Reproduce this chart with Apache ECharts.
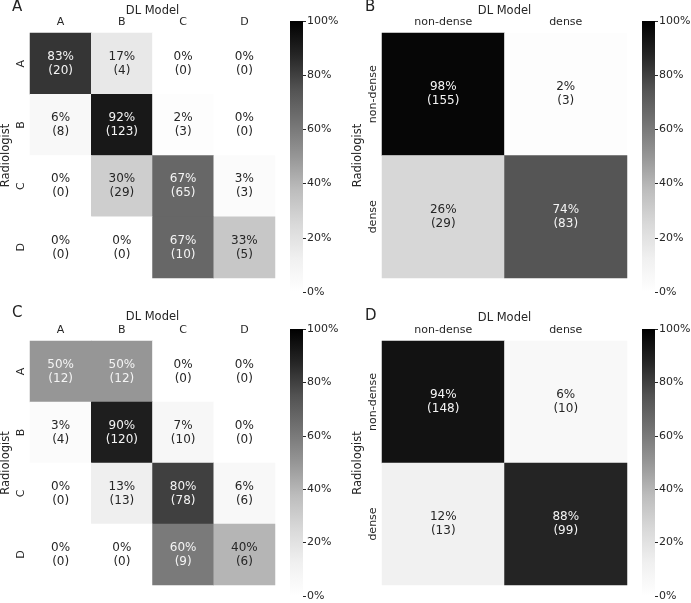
<!DOCTYPE html>
<html><head><meta charset="utf-8">
<script src="https://cdn.jsdelivr.net/npm/echarts@6/dist/echarts.min.js"></script>
<style>html,body{margin:0;padding:0;background:#fff}#c{width:691px;height:603px}</style>
</head><body><div id="c"></div>
<script>
const catsFour = ['A', 'B', 'C', 'D'];
const catsTwo = ['non-dense', 'dense'];
const pctA = [[83, 17, 0, 0], [6, 92, 2, 0], [0, 30, 67, 3], [0, 0, 67, 33]];
const cntA = [[20, 4, 0, 0], [8, 123, 3, 0], [0, 29, 65, 3], [0, 0, 10, 5]];
const pctB = [[98, 2], [26, 74]];
const cntB = [[155, 3], [29, 83]];
const pctC = [[50, 50, 0, 0], [3, 90, 7, 0], [0, 13, 80, 6], [0, 0, 60, 40]];
const cntC = [[12, 12, 0, 0], [4, 120, 10, 0], [0, 13, 78, 6], [0, 0, 9, 6]];
const pctD = [[94, 6], [12, 88]];
const cntD = [[148, 10], [13, 99]];
const cbarTicks = [0, 20, 40, 60, 80, 100];
const panelLetters = ['A', 'B', 'C', 'D'];
const xTitle = 'DL Model';
const yTitle = 'Radiologist';

const FONT = 'DejaVu Sans';
const TXT = '#262626';
const greys = ['#ffffff', '#f0f0f0', '#d9d9d9', '#bdbdbd', '#969696', '#737373', '#525252', '#252525', '#000000'];

const panels = [
  { cats: catsFour, pct: pctA, cnt: cntA, grid: { left: 30, top: 33, width: 245, height: 245 }, cb: { left: 290, top: 21, height: 271 }, letter: { x: 12, y: 0 }, nameGap: 21.5 },
  { cats: catsTwo, pct: pctB, cnt: cntB, grid: { left: 382, top: 33, width: 245, height: 245 }, cb: { left: 642, top: 21, height: 271 }, letter: { x: 365, y: 0 }, nameGap: 21.5 },
  { cats: catsFour, pct: pctC, cnt: cntC, grid: { left: 30, top: 341, width: 245, height: 244 }, cb: { left: 290, top: 329, height: 267 }, letter: { x: 12, y: 306 }, nameGap: 23.5 },
  { cats: catsTwo, pct: pctD, cnt: cntD, grid: { left: 382, top: 341, width: 245, height: 244 }, cb: { left: 642, top: 329, height: 267 }, letter: { x: 365, y: 309 }, nameGap: 23 }
];

const gradStops = greys.slice().reverse().map((c, k, a) => ({ offset: k / (a.length - 1), color: c }));

const grid = [], xAxis = [], yAxis = [], series = [], visualMap = [], graphic = [];
panels.forEach((p, i) => {
  grid.push(Object.assign({ outerBoundsMode: 'none', containLabel: false }, p.grid));
  const gi = grid.length - 1;
  xAxis.push({
    type: 'category', gridIndex: gi, data: p.cats, position: 'top',
    name: xTitle, nameLocation: 'middle', nameGap: p.nameGap, nameMoveOverlap: false,
    nameTextStyle: { fontFamily: FONT, fontSize: 11.5, color: TXT, verticalAlign: 'middle' },
    axisLine: { show: false }, axisTick: { show: false }, splitLine: { show: false },
    axisLabel: { fontFamily: FONT, fontSize: 11, color: TXT, margin: 5 }
  });
  yAxis.push({
    type: 'category', gridIndex: gi, data: p.cats, inverse: true,
    name: yTitle, nameLocation: 'middle', nameGap: 24, nameRotate: 90, nameMoveOverlap: false,
    nameTextStyle: { fontFamily: FONT, fontSize: 11.5, color: TXT, verticalAlign: 'middle' },
    axisLine: { show: false }, axisTick: { show: false }, splitLine: { show: false },
    axisLabel: { fontFamily: FONT, fontSize: 11, color: TXT, rotate: 90, margin: 3, align: 'center', verticalAlign: 'bottom' }
  });
  const data = [];
  p.pct.forEach((row, r) => row.forEach((v, c) => {
    data.push({ value: [c, r, v], label: { color: v > 44 ? '#f4f4f4' : TXT } });
  }));
  const cnt = p.cnt;
  series.push({
    type: 'heatmap', xAxisIndex: gi, yAxisIndex: gi, data: data,
    label: {
      show: true, fontFamily: FONT, fontSize: 12, lineHeight: 14,
      formatter: (prm) => prm.value[2] + '%\n(' + cnt[prm.value[1]][prm.value[0]] + ')'
    },
    itemStyle: { borderWidth: 0 },
    emphasis: { disabled: true }
  });
  visualMap.push({
    type: 'continuous', seriesIndex: i, dimension: 2, min: 0, max: 100,
    show: false, inRange: { color: greys }
  });
  grid.push({ left: p.cb.left, top: p.cb.top, width: 13, height: p.cb.height, outerBoundsMode: 'none', containLabel: false });
  const ci = grid.length - 1;
  xAxis.push({ type: 'value', gridIndex: ci, show: false, min: 0, max: 1 });
  yAxis.push({
    type: 'value', gridIndex: ci, min: cbarTicks[0], max: cbarTicks[cbarTicks.length - 1], interval: cbarTicks[1] - cbarTicks[0], position: 'right',
    axisLine: { show: false, onZero: false }, splitLine: { show: false },
    axisTick: { show: true, length: 3, lineStyle: { color: TXT, width: 1 } },
    axisLabel: { fontFamily: FONT, fontSize: 11, color: TXT, margin: 4, formatter: '{value}%' }
  });
  graphic.push({
    type: 'rect', z: -1, silent: true,
    shape: { x: p.cb.left, y: p.cb.top, width: 13, height: p.cb.height },
    style: { fill: { type: 'linear', x: 0, y: 0, x2: 0, y2: 1, colorStops: gradStops } }
  });
  graphic.push({
    type: 'text', left: p.letter.x, top: p.letter.y,
    style: { text: panelLetters[i], fontFamily: FONT, fontSize: 15, fill: '#222' }
  });
});

const chart = echarts.init(document.getElementById('c'));
chart.setOption({
  animation: false, backgroundColor: '#ffffff',
  grid, xAxis, yAxis, series, visualMap, graphic
});
</script></body></html>
